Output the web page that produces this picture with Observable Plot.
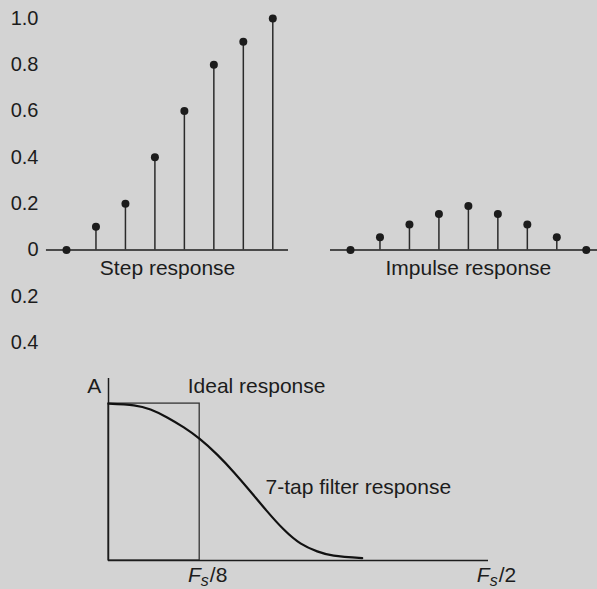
<!DOCTYPE html>
<html><head><meta charset="utf-8">
<script src="https://cdn.jsdelivr.net/npm/d3@7"></script>
<script src="https://cdn.jsdelivr.net/npm/@observablehq/plot@0.6"></script>
<style>
html,body{margin:0;padding:0;background:#d3d3d3;}
#chart{position:relative;width:597px;height:589px;background:#d3d3d3;overflow:hidden;font-family:"Liberation Sans",Arial,Helvetica,sans-serif;}
#chart svg{position:absolute;left:0;}
</style></head><body><div id="chart"></div>
<script>
// ---- time-domain responses (sample index, value) ----
const stepSamples = [0, 1, 2, 3, 4, 5, 6, 7];
const stepValues = [0, 0.1, 0.2, 0.4, 0.6, 0.8, 0.9, 1.0];
const impulseSamples = [0, 1, 2, 3, 4, 5, 6, 7, 8];
const impulseValues = [0, 0.055, 0.11, 0.155, 0.19, 0.155, 0.11, 0.055, 0];
const yTickValues = [1.0, 0.8, 0.6, 0.4, 0.2, 0, -0.2, -0.4];
const yTickLabels = ["1.0", "0.8", "0.6", "0.4", "0.2", "0", "0.2", "0.4"];
const panelTitles = ["Step response", "Impulse response"];

// ---- frequency response (fraction of Fs, amplitude) ----
const freq = [0, 0.0333, 0.0553, 0.0772, 0.0991, 0.12, 0.143, 0.1649, 0.1868, 0.2088, 0.2307, 0.2526, 0.2746, 0.2964, 0.3338];
const filterAmp = [1.0, 0.989, 0.962, 0.912, 0.848, 0.775, 0.675, 0.563, 0.44, 0.313, 0.197, 0.109, 0.058, 0.031, 0.015];
const idealCutoff = 0.12;
const idealAmp = 1;
const freqTickValues = [0.12, 0.5];
const freqTickLabels = ["F_s/8", "F_s/2"];
const annotations = ["A", "Ideal response", "7-tap filter response"];

const ink = "#1c1c1c";
const font = "'Liberation Sans', Arial, Helvetica, sans-serif";
const impulseOffset = 9.637;

const step = stepSamples.map((n, i) => ({x: n, v: stepValues[i]}));
const imp = impulseSamples.map((n, i) => ({x: n + impulseOffset, v: impulseValues[i]}));
const tickLabel = new Map(yTickValues.map((v, i) => [v, yTickLabels[i]]));

const topPlot = Plot.plot({
  width: 597, height: 360,
  marginLeft: 40, marginRight: 0, marginTop: 18, marginBottom: 18,
  style: {background: "transparent", fontFamily: font, color: ink, overflow: "visible"},
  x: {domain: [-0.882, 18.018], axis: null},
  y: {domain: [-0.4, 1.0], axis: null},
  marks: [
    Plot.axisY({ticks: yTickValues, tickFormat: d => tickLabel.get(d), tickSize: 0, tickPadding: 2, fontSize: 20, label: null}),
    Plot.ruleY([0], {x1: -0.68, x2: 7.533, stroke: ink, strokeWidth: 1.5}),
    Plot.ruleY([0], {x1: impulseOffset - 0.68, x2: 18.018, stroke: ink, strokeWidth: 1.5}),
    Plot.ruleX(step, {x: "x", y1: 0, y2: "v", stroke: "#2a2a2a", strokeWidth: 1.5}),
    Plot.ruleX(imp, {x: "x", y1: 0, y2: "v", stroke: "#2a2a2a", strokeWidth: 1.5}),
    Plot.dot(step, {x: "x", y: "v", r: 4, fill: ink, stroke: null}),
    Plot.dot(imp, {x: "x", y: "v", r: 4, fill: ink, stroke: null}),
    Plot.text([panelTitles[0]], {x: 3.43, y: 0, dy: 18, text: d => d, fontSize: 21, fill: ink}),
    Plot.text([panelTitles[1]], {x: 4 + impulseOffset, y: 0, dy: 18, text: d => d, fontSize: 21, fill: ink})
  ]
});
topPlot.style.top = "0px";

const curve = freq.map((f, i) => ({f, a: filterAmp[i]}));
const bottomPlot = Plot.plot({
  width: 597, height: 229,
  marginLeft: 108, marginRight: 109, marginTop: 18, marginBottom: 29,
  style: {background: "transparent", fontFamily: font, color: ink, overflow: "visible"},
  x: {domain: [0, 0.5], axis: null},
  y: {domain: [0, 1.16], axis: null},
  marks: [
    Plot.rect([{x1: 0, x2: idealCutoff, y1: 0, y2: idealAmp}], {x1: "x1", x2: "x2", y1: "y1", y2: "y2", fill: "none", stroke: "#333", strokeWidth: 1.3}),
    Plot.ruleX([0], {y1: 0, y2: 1.16, stroke: ink, strokeWidth: 1.5}),
    Plot.ruleY([0], {x1: 0, x2: 0.5, stroke: ink, strokeWidth: 1.5}),
    Plot.line(curve, {x: "f", y: "a", curve: "natural", stroke: "#111", strokeWidth: 2.2}),
    Plot.text(freqTickValues, {x: d => d, y: 0, text: (d, i) => freqTickLabels[i], dx: 8, dy: 15, fontSize: 21, fill: ink, className: "fs-label"}),
    Plot.text([annotations[0]], {x: 0, y: idealAmp, text: d => d, dx: -7.3, dy: -17.3, textAnchor: "end", fontSize: 21, fill: ink}),
    Plot.text([annotations[1]], {x: idealCutoff, y: idealAmp, text: d => d, dx: -12, dy: -17.3, textAnchor: "start", fontSize: 21, fill: ink}),
    Plot.text([annotations[2]], {x: curve[8].f, y: curve[8].a, text: d => d, dx: 15, dy: -4, textAnchor: "start", fontSize: 21, fill: ink})
  ]
});
bottomPlot.style.top = "360px";

// subscripts in the frequency labels
d3.select(bottomPlot).selectAll(".fs-label text").each(function() {
  const m = this.textContent.match(/^(\w)_(\w)(.*)$/);
  if (!m) return;
  const t = d3.select(this);
  t.text(null);
  t.append("tspan").attr("font-style", "italic").text(m[1]);
  t.append("tspan").attr("font-style", "italic").attr("font-size", "16px").attr("dy", 4).text(m[2]);
  t.append("tspan").attr("dy", -4).attr("dx", 1).text(m[3]);
});

const chart = document.getElementById("chart");
chart.appendChild(topPlot);
chart.appendChild(bottomPlot);
</script>
</body></html>
